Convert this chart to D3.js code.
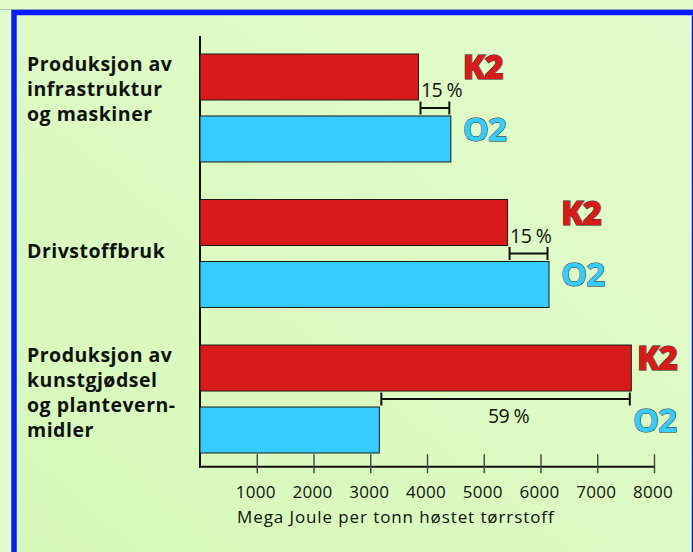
<!DOCTYPE html>
<html>
<head>
<meta charset="utf-8">
<script src="https://cdn.jsdelivr.net/npm/d3@7"></script>
<style>
  html, body { margin: 0; padding: 0; background: #e2fbcc; }
  svg { display: block; font-family: "Open Sans", "Noto Sans", sans-serif; }
</style>
</head>
<body>
<div id="chart"></div>
<script>
// kategorier (en linje per tekstlinje)
const categoryLines = [
  ['Produksjon av', 'infrastruktur', 'og maskiner'],
  ['Drivstoffbruk'],
  ['Produksjon av', 'kunstgjødsel', 'og plantevern-', 'midler']
];
const series = ['K2', 'O2'];
const k2Values = [3850, 5420, 7600];
const o2Values = [4420, 6150, 3160];
const diffLabels = ['15 %', '15 %', '59 %'];
const xTicks = [1000, 2000, 3000, 4000, 5000, 6000, 7000, 8000];
const xTitle = 'Mega Joule per tonn høstet tørrstoff';

(function(){
  const W = 693, H = 552;
  const colors = {K2: '#d91a1a', O2: '#36ccff'};

  const svg = d3.select('#chart').append('svg')
    .attr('width', W).attr('height', H);

  const defs = svg.append('defs');
  const grad = defs.append('linearGradient').attr('id', 'bg')
    .attr('x1', '100%').attr('y1', '0%').attr('x2', '0%').attr('y2', '100%');
  grad.append('stop').attr('offset', '0%').attr('stop-color', '#e3fccd');
  grad.append('stop').attr('offset', '100%').attr('stop-color', '#d6f8b9');

  // bakgrunn og ramme
  svg.append('rect').attr('width', W).attr('height', H).attr('fill', '#e2fccc');
  svg.append('line').attr('x1', 0).attr('x2', W).attr('y1', 9.5).attr('y2', 9.5)
    .attr('stroke', '#b9c9ad').attr('stroke-width', 1);
  svg.append('rect')
    .attr('x', 14).attr('y', 12.5).attr('width', 680.5).attr('height', 560)
    .attr('fill', 'url(#bg)')
    .attr('stroke', '#0a1cff').attr('stroke-width', 5.5);

  const cats = categoryLines.map(d => d.join(' '));
  const rows = cats.map((c, i) => ({cat: c, lines: categoryLines[i], K2: k2Values[i], O2: o2Values[i], diff: diffLabels[i]}));

  const x = d3.scaleLinear().domain([0, 8000]).range([200, 654]);
  const y = d3.scaleBand().domain(cats).range([54, 453]).paddingInner(0.258).paddingOuter(0);
  const ys = d3.scaleBand().domain(series).range([0, y.bandwidth()]).paddingInner(0.258).paddingOuter(0);

  // x-akse
  const axisY = 466.7;
  const xAxis = svg.append('g')
    .attr('transform', `translate(0,${axisY})`)
    .call(d3.axisBottom(x).tickValues(xTicks).tickSizeOuter(0).tickFormat(d3.format('d')));
  xAxis.select('.domain').attr('stroke', '#111').attr('stroke-width', 2)
    .attr('d', `M${x(0) - 1},0H${x(8000)}`);
  xAxis.selectAll('.tick line').attr('y1', -12.5).attr('y2', 6.5)
    .attr('stroke', '#444').attr('stroke-width', 1.4);
  xAxis.selectAll('.tick text')
    .attr('y', 31).attr('dy', 0).attr('dx', -1.5)
    .attr('fill', '#111').attr('font-size', 17).attr('letter-spacing', 0.3)
    .attr('font-family', '"Open Sans", sans-serif');

  svg.append('text').attr('x', 237).attr('y', 523)
    .attr('font-size', 17).attr('letter-spacing', 0.9).attr('fill', '#111').text(xTitle);

  // y-akse linje
  svg.append('line').attr('x1', x(0)).attr('x2', x(0)).attr('y1', 36).attr('y2', axisY + 1)
    .attr('stroke', '#111').attr('stroke-width', 2);

  // kategori-tekst
  rows.forEach(r => {
    const top = y(r.cat);
    const first = r.lines.length === 1 ? top + y.bandwidth() / 2 + 4 : top + 17;
    const t = svg.append('text').attr('x', 27).attr('y', first)
      .attr('font-size', 19.5).attr('font-weight', 700).attr('letter-spacing', 0.5)
      .attr('fill', '#111');
    r.lines.forEach((l, i) => {
      t.append('tspan').attr('x', 27).attr('y', first + i * 25).text(l);
    });
  });

  const groups = svg.selectAll('g.grp').data(rows).enter().append('g')
    .attr('class', 'grp')
    .attr('transform', d => `translate(0,${y(d.cat)})`);

  groups.selectAll('rect.bar')
    .data(d => series.map(s => ({s, v: d[s], row: d})))
    .enter().append('rect').attr('class', 'bar')
    .attr('x', x(0))
    .attr('y', d => ys(d.s))
    .attr('width', d => x(d.v) - x(0))
    .attr('height', ys.bandwidth())
    .attr('fill', d => colors[d.s])
    .attr('stroke', '#1a1a1a').attr('stroke-width', 1);

  // serie-etiketter
  groups.selectAll('text.ser')
    .data(d => series.map(s => ({s, row: d})))
    .enter().append('text').attr('class', 'ser')
    .attr('x', d => Math.min(x(Math.max(d.row.K2, d.row.O2)) + 12, d.s === 'K2' ? 637 : 633))
    .attr('y', d => ys(d.s) + 25)
    .attr('font-size', 33)
    .attr('font-weight', d => d.s === 'K2' ? 800 : 700)
    .attr('letter-spacing', -1)
    .attr('fill', d => colors[d.s])
    .attr('stroke', '#2a2a2a').attr('stroke-width', 0.9)
    .attr('paint-order', 'stroke')
    .text(d => d.s);

  // differanse-klammer
  groups.each(function(d){
    const g = d3.select(this);
    const lo = Math.min(d.K2, d.O2), hi = Math.max(d.K2, d.O2);
    const x1 = x(lo) + 2, x2 = x(hi) - 1.5;
    const by = (ys('K2') + ys.bandwidth() + ys('O2')) / 2;
    const br = g.append('g').attr('stroke', '#111').attr('stroke-width', 2);
    br.append('line').attr('x1', x1).attr('x2', x2).attr('y1', by).attr('y2', by);
    br.append('line').attr('x1', x1).attr('x2', x1).attr('y1', by - 6.5).attr('y2', by + 6.5);
    br.append('line').attr('x1', x2).attr('x2', x2).attr('y1', by - 6.5).attr('y2', by + 6.5);
    const wide = (x2 - x1) > 100;
    g.append('text')
      .attr('x', wide ? (x1 + x2) / 2 + 3 : x1 + 0.5)
      .attr('y', wide ? by + 24 : ys('K2') + ys.bandwidth() - 2.5)
      .attr('text-anchor', wide ? 'middle' : 'start')
      .attr('font-size', 19.5).attr('fill', '#111')
      .attr('letter-spacing', -0.6)
      .text(d.diff);
  });
})();
</script>
</body>
</html>
